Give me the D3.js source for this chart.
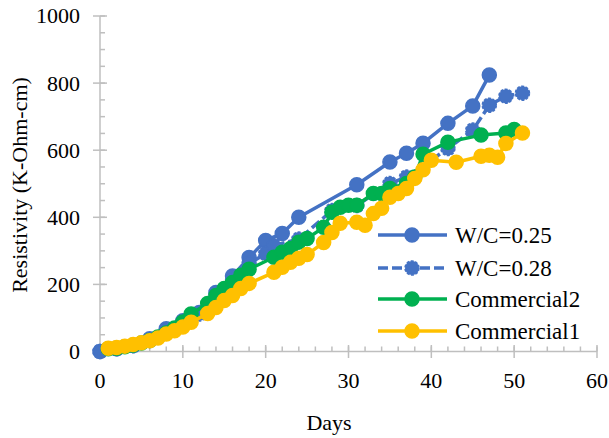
<!DOCTYPE html>
<html>
<head>
<meta charset="utf-8">
<script src="https://cdn.jsdelivr.net/npm/d3@7"></script>
<style>
  body { margin: 0; background: #fff; }
</style>
</head>
<body>
<script>
// series data
var wc25Days = [0, 2, 4, 6, 8, 10, 12, 14, 16, 18, 20, 22, 24, 31, 35, 37, 39, 42, 45, 47];
var wc25Vals = [0, 8, 18, 38, 68, 92, 116, 176, 225, 280, 331, 352, 400, 497, 565, 591, 621, 680, 732, 824];

var wc28Days = [0, 2, 4, 6, 8, 10, 12, 14, 16, 18, 20, 21, 24, 28, 31, 35, 37, 42, 45, 47, 49, 51];
var wc28Vals = [0, 8, 17, 33, 62, 86, 112, 165, 212, 262, 292, 316, 335, 420, 435, 501, 520, 605, 660, 734, 761, 770];

var com2Days = [1, 2, 3, 4, 5, 6, 7, 8, 9, 10, 11, 13, 14, 15, 16, 17, 18, 21, 22, 23, 24, 25, 27, 28, 29, 30, 31, 33, 34, 35, 37, 38, 39, 42, 46, 49, 50];
var com2Vals = [8, 10, 14, 19, 25, 33, 43, 55, 70, 88, 112, 143, 167, 188, 206, 227, 245, 281, 296, 307, 326, 337, 370, 415, 430, 436, 436, 471, 471, 486, 501, 520, 588, 624, 645, 651, 662];

var com1Days = [1, 2, 3, 4, 5, 6, 7, 8, 9, 10, 11, 13, 14, 15, 16, 17, 18, 21, 22, 23, 24, 25, 27, 28, 29, 31, 32, 33, 34, 35, 36, 37, 38, 39, 40, 43, 46, 47, 48, 49, 51];
var com1Vals = [10, 12, 16, 21, 26, 32, 40, 52, 62, 73, 87, 113, 131, 152, 167, 188, 203, 236, 251, 266, 278, 289, 325, 355, 382, 385, 376, 411, 427, 460, 471, 486, 516, 542, 570, 564, 582, 585, 579, 620, 651];

var xTicks = [0, 10, 20, 30, 40, 50, 60];
var yTicks = [0, 200, 400, 600, 800, 1000];

var series = [
  {name: "W/C=0.25", days: wc25Days, vals: wc25Vals, color: "#4472C4", dash: null},
  {name: "W/C=0.28", days: wc28Days, vals: wc28Vals, color: "#4472C4", dash: "10,4"},
  {name: "Commercial2", days: com2Days, vals: com2Vals, color: "#00B050", dash: null},
  {name: "Commercial1", days: com1Days, vals: com1Vals, color: "#FFC000", dash: null}
];

var W = 609, H = 438;
var x = d3.scaleLinear().domain([0, 60]).range([100, 597]);
var y = d3.scaleLinear().domain([0, 1000]).range([351.5, 16]);

var svg = d3.select("body").append("svg")
    .attr("width", W)
    .attr("height", H)
    .attr("font-family", "'Liberation Serif', 'DejaVu Serif', serif");

var axisColor = "#BFBFBF";

// y axis
var gy = svg.append("g");
gy.append("line")
    .attr("x1", x(0)).attr("x2", x(0))
    .attr("y1", y(0)).attr("y2", y(1000))
    .attr("stroke", axisColor).attr("stroke-width", 1.5);
gy.selectAll(".minor")
    .data(d3.range(0, 1001, 50))
    .enter().append("line")
    .attr("x1", x(0)).attr("x2", x(0) + 5)
    .attr("y1", function(d) { return y(d); })
    .attr("y2", function(d) { return y(d); })
    .attr("stroke", axisColor).attr("stroke-width", 1.5);
gy.selectAll(".major")
    .data(yTicks)
    .enter().append("line")
    .attr("x1", x(0) - 7).attr("x2", x(0) + 7)
    .attr("y1", function(d) { return y(d); })
    .attr("y2", function(d) { return y(d); })
    .attr("stroke", axisColor).attr("stroke-width", 1.5);
gy.selectAll("text")
    .data(yTicks)
    .enter().append("text")
    .attr("x", 80)
    .attr("y", function(d) { return y(d); })
    .attr("dy", "0.34em")
    .attr("text-anchor", "end")
    .style("font-size", "22px")
    .text(function(d) { return d; });

// x axis
var gx = svg.append("g");
gx.append("line")
    .attr("x1", x(0)).attr("x2", x(60))
    .attr("y1", y(0)).attr("y2", y(0))
    .attr("stroke", axisColor).attr("stroke-width", 1.5);
gx.selectAll(".minor")
    .data(d3.range(0, 61, 2))
    .enter().append("line")
    .attr("x1", function(d) { return x(d); })
    .attr("x2", function(d) { return x(d); })
    .attr("y1", y(0)).attr("y2", y(0) - 5)
    .attr("stroke", axisColor).attr("stroke-width", 1.5);
gx.selectAll(".major")
    .data(xTicks)
    .enter().append("line")
    .attr("x1", function(d) { return x(d); })
    .attr("x2", function(d) { return x(d); })
    .attr("y1", y(0) - 6.5).attr("y2", y(0) + 6.5)
    .attr("stroke", axisColor).attr("stroke-width", 1.5);
gx.selectAll("text")
    .data(xTicks)
    .enter().append("text")
    .attr("x", function(d) { return x(d); })
    .attr("y", 388)
    .attr("text-anchor", "middle")
    .style("font-size", "22px")
    .text(function(d) { return d; });

// titles
svg.append("text")
    .attr("x", 329).attr("y", 430)
    .attr("text-anchor", "middle")
    .style("font-size", "22px")
    .text("Days");

svg.append("text")
    .attr("transform", "translate(27,185) rotate(-90)")
    .attr("text-anchor", "middle")
    .style("font-size", "22px")
    .text("Resistivity (K-Ohm-cm)");

// series
var line = d3.line()
    .x(function(d) { return x(d[0]); })
    .y(function(d) { return y(d[1]); });

series.forEach(function(s) {
    var pts = d3.zip(s.days, s.vals);
    var g = svg.append("g");
    g.append("path")
        .datum(pts)
        .attr("fill", "none")
        .attr("stroke", s.color)
        .attr("stroke-width", 3.5)
        .attr("stroke-linejoin", "round")
        .attr("stroke-dasharray", s.dash)
        .attr("d", line);
    g.selectAll("circle")
        .data(pts)
        .enter().append("circle")
        .attr("cx", function(d) { return x(d[0]); })
        .attr("cy", function(d) { return y(d[1]); })
        .attr("r", 7)
        .attr("fill", s.color)
        .attr("stroke", s.color)
        .attr("stroke-width", 1.5)
        .attr("stroke-dasharray", s.dash ? "3,1.5" : null);
});

// legend
var legendY = [235, 268, 299, 331];
var lg = svg.append("g");
series.forEach(function(s, i) {
    var ly = legendY[i];
    lg.append("line")
        .attr("x1", 378).attr("x2", 447)
        .attr("y1", ly).attr("y2", ly)
        .attr("stroke", s.color)
        .attr("stroke-width", 3.5)
        .attr("stroke-dasharray", s.dash);
    lg.append("circle")
        .attr("cx", 412).attr("cy", ly)
        .attr("r", 7)
        .attr("fill", s.color)
        .attr("stroke", s.color)
        .attr("stroke-width", 1.5)
        .attr("stroke-dasharray", s.dash ? "3,1.5" : null);
    lg.append("text")
        .attr("x", 455).attr("y", ly)
        .attr("dy", "0.35em")
        .style("font-size", "23px")
        .text(s.name);
});
</script>
</body>
</html>
